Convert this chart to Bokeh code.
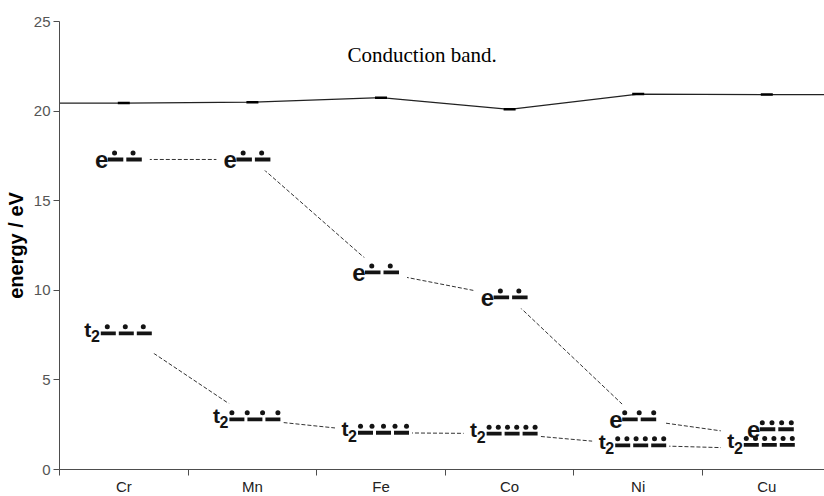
import numpy as np
from bokeh.plotting import figure
from bokeh.models import FixedTicker, Range1d, Label
from bokeh.core.properties import value
from bokeh.embed import file_html
from bokeh.resources import INLINE

# ---------------- data ----------------
elements = ["Cr", "Mn", "Fe", "Co", "Ni", "Cu"]
conduction_band = [20.45, 20.5, 20.75, 20.1, 20.95, 20.92]
e_level = [17.3, 17.3, 11.0, 9.6, 2.8, 1.8]
t2_level = [7.6, 2.8, 2.05, 2.0, 1.35, 1.15]
e_electrons = [2, 2, 2, 2, 3, 4]
t2_electrons = [3, 4, 5, 6, 6, 6]
y_ticks = [0, 5, 10, 15, 20, 25]

# ---------------- layout ----------------
FRAME_W, FRAME_H = 765, 448
CAT_PX = 128.6
X0 = 0.5
X1 = X0 + FRAME_W / CAT_PX
Y0, Y1 = 0, 25
FONT = "Liberation Sans"
INK = "#141414"

def dx(px):
    return px * (X1 - X0) / FRAME_W

def dy(py):  # screen pixels (down positive) -> data units
    return -py * (Y1 - Y0) / FRAME_H

# label nudges in pixels (x right, y down) to avoid overlaps
nudge = {"e": {"Cu": (9, -8)}, "t2": {"Cu": (0, -4)}}

xs = list(range(1, len(elements) + 1))

p = figure(frame_width=FRAME_W, frame_height=FRAME_H,
           x_range=Range1d(X0, X1), y_range=Range1d(Y0, Y1),
           output_backend="svg", toolbar_location=None,
           min_border_left=59, min_border_top=21, min_border_right=0, min_border_bottom=20)
p.outline_line_color = None
p.grid.visible = False
p.background_fill_color = "white"
p.border_fill_color = "white"

# conduction band (extended flat to plot edges)
cb_x = [X0] + xs + [X1]
cb_y = [conduction_band[0]] + conduction_band + [conduction_band[-1]]
p.line(cb_x, cb_y, line_color="#222222", line_width=1.3)
p.scatter(xs, conduction_band, marker="dash", size=12, line_width=2.5, line_color="#000000")

# dashed level connectors
p.line(xs, e_level, line_color="#333333", line_width=1, line_dash="4 2")
p.line(xs, t2_level, line_color="#333333", line_width=1, line_dash="4 2")

groups = {
    "e": dict(levels=e_level, electrons=e_electrons, start=-16, bar_len=15.5, gap=3, nbars=2,
              box=(-36, 26, -15, 11)),
    "t2": dict(levels=t2_level, electrons=t2_electrons, start=-23, bar_len=15, gap=3, nbars=3,
               box=(-46, 31, -16, 20)),
}

anchors = {}
for key, g in groups.items():
    ax, ay = [], []
    for i, el in enumerate(elements):
        nx, ny = nudge[key].get(el, (0, 0))
        ax.append(xs[i] + dx(nx))
        ay.append(g["levels"][i] + dy(ny))
    anchors[key] = (ax, ay)

# white label backgrounds (hide connectors under labels)
for key, g in groups.items():
    ax, ay = anchors[key]
    l, r, t, b = g["box"]
    p.rect([x + dx((l + r) / 2) for x in ax], [y + dy((t + b) / 2) for y in ay],
           width=r - l, height=b - t, width_units="screen", height_units="screen",
           fill_color="white", line_color=None)

# bars and electron dots
for key, g in groups.items():
    ax, ay = anchors[key]
    bx, by, dxs, dys = [], [], [], []
    centers = [g["start"] + g["bar_len"] / 2 + k * (g["bar_len"] + g["gap"]) for k in range(g["nbars"])]
    end = g["start"] + g["nbars"] * g["bar_len"] + (g["nbars"] - 1) * g["gap"]
    for i in range(len(elements)):
        for c in centers:
            bx.append(ax[i] + dx(c))
            by.append(ay[i])
        n = g["electrons"][i]
        if n <= g["nbars"]:
            offs = [c - 1 for c in centers[:n]]
        else:
            a, b_ = g["start"] + 2.5, end - 2.5
            offs = [a + (b_ - a) * j / (n - 1) for j in range(n)]
        for o in offs:
            dxs.append(ax[i] + dx(o))
            dys.append(ay[i] + dy(-6.5))
    p.rect(bx, by, width=g["bar_len"], height=3.8, width_units="screen", height_units="screen",
           fill_color=INK, line_color=None)
    p.scatter(dxs, dys, size=5, marker="circle", fill_color=INK, line_color=None)

# letters
ex, ey = anchors["e"]
p.text(ex, ey, text=["e"] * len(elements), x_offset=-15.5, y_offset=0,
       text_font=value(FONT), text_font_style="bold", text_font_size="24px",
       text_align="right", text_baseline="alphabetic", text_color=INK)
tx, ty = anchors["t2"]
p.text(tx, ty, text=["t"] * len(elements), x_offset=-32.5, y_offset=-4,
       text_font=value(FONT), text_font_style="bold", text_font_size="21px",
       text_align="right", text_baseline="alphabetic", text_color=INK)
p.text(tx, ty, text=["2"] * len(elements), x_offset=-24, y_offset=3,
       text_font=value(FONT), text_font_style="bold", text_font_size="16px",
       text_align="right", text_baseline="alphabetic", text_color=INK)

p.add_layout(Label(x=X0 + dx(288), y=dy(54 - 469), text="Conduction band.",
                   text_font="Liberation Serif", text_font_size="21px",
                   text_color="#000000", text_baseline="alphabetic"))

# axes
AX = "#4d4d4d"
p.yaxis.ticker = FixedTicker(ticks=y_ticks)
p.yaxis.axis_line_color = AX
p.yaxis.major_tick_line_color = AX
p.yaxis.major_tick_out = 6
p.yaxis.major_tick_in = 0
p.yaxis.minor_tick_out = 0
p.yaxis.minor_tick_in = 0
p.yaxis.major_label_standoff = 3
p.yaxis.major_label_text_font = FONT
p.yaxis.major_label_text_font_size = "15px"
p.yaxis.major_label_text_color = "#555555"
p.yaxis.axis_label = "energy / eV"
p.yaxis.axis_label_text_font = FONT
p.yaxis.axis_label_text_font_style = "bold"
p.yaxis.axis_label_text_font_size = "20px"
p.yaxis.axis_label_text_color = "#000000"
p.yaxis.axis_label_standoff = 4

p.xaxis.ticker = FixedTicker(ticks=xs, minor_ticks=[k + 0.5 for k in range(len(elements) + 1)])
p.xaxis.major_label_overrides = {x: el for x, el in zip(xs, elements)}
p.xaxis.axis_line_color = AX
p.xaxis.major_tick_out = 0
p.xaxis.major_tick_in = 0
p.xaxis.minor_tick_out = 6
p.xaxis.minor_tick_in = 0
p.xaxis.minor_tick_line_color = AX
p.xaxis.major_label_standoff = 2
p.xaxis.major_label_text_font = FONT
p.xaxis.major_label_text_font_size = "15px"
p.xaxis.major_label_text_color = "#222222"

open("out.html", "w").write(file_html(p, INLINE))
